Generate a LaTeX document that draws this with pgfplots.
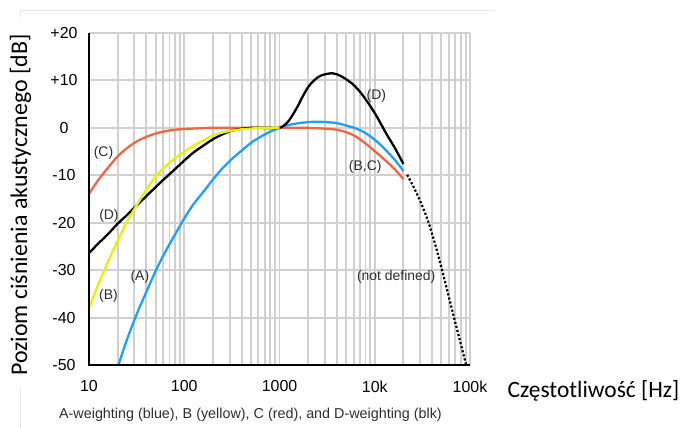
\documentclass[border=0pt]{standalone}
\usepackage{pgfplots}
\pgfplotsset{compat=1.18}
\usepackage{fontspec}
\setmainfont{Liberation Sans}
\newfontfamily\calibri{Carlito}
\definecolor{cA}{RGB}{30,160,250}
\definecolor{cB}{RGB}{228,242,10}
\definecolor{cC}{RGB}{240,100,65}
\definecolor{gridc}{RGB}{208,208,208}
\definecolor{framec}{RGB}{232,232,232}
\definecolor{labc}{RGB}{45,45,45}
\begin{document}
\begin{tikzpicture}
\path[use as bounding box] (0bp,0bp) rectangle (683bp,428bp);
\draw[framec, line width=0.8bp] (20bp,411bp) -- (20bp,418bp) -- (495bp,418bp);
\draw[framec, line width=0.8bp] (20bp,0bp) -- (20bp,40bp);
\begin{axis}[at={(89bp,63bp)}, anchor=south west, scale only axis,
  width=381bp, height=332bp,
  xmode=log, xmin=10, xmax=100000, ymin=-50, ymax=20,
  xtick={10,100,1000,10000,100000},
  xticklabels={10,100,1000,10k,100k},
  ytick={-50,-40,-30,-20,-10,0,10,20},
  yticklabels={-50,-40,-30,-20,-10,0,+10,+20},
  grid=both,
  major grid style={gridc, line width=1.9bp},
  minor grid style={gridc, line width=1.9bp},
  major tick length=0pt, minor tick length=0pt,
  axis line style={draw=none},
  tick label style={font=\fontsize{16}{18}\selectfont, text=black},
  xticklabel style={yshift=-12bp},
  yticklabel style={anchor=center, xshift=-25bp},
  clip=true,
]
% C-weighting (red)
\addplot[cC, line width=2.3bp, smooth] coordinates {
(10,-13.9)(12.5,-11.0)(16,-8.3)(20,-6.0)(25,-4.3)(31.5,-2.9)(40,-1.9)(50,-1.2)(63,-0.7)(80,-0.4)(100,-0.25)(125,-0.15)(160,-0.05)(200,0)(1000,0)(2000,0)(3150,-0.2)(4000,-0.4)(5000,-0.9)(6300,-1.8)(8000,-3.3)(10000,-4.9)(12500,-6.6)(16000,-8.6)(20000,-10.8)};
% A-weighting (blue)
\addplot[cA, line width=2.3bp, smooth] coordinates {
(20,-50.5)(25,-44.7)(31.5,-39.4)(40,-34.6)(50,-30.2)(63,-26.2)(80,-22.5)(100,-19.1)(125,-16.1)(160,-13.4)(200,-10.9)(250,-8.6)(315,-6.6)(400,-4.8)(500,-3.2)(630,-1.9)(800,-0.8)(1000,0)(1250,0.6)(1600,1.0)(2000,1.2)(2500,1.3)(3150,1.2)(4000,1.0)(5000,0.5)(6300,-0.1)(8000,-1.1)(10000,-2.5)(12500,-4.3)(16000,-6.6)(20000,-9.1)};
% D-weighting (black)
\addplot[black, line width=2.3bp, smooth] coordinates {
(10,-26.4)(12.5,-24.4)(16,-22.3)(20,-20.2)(25,-18.4)(31.5,-16.4)(40,-14.4)(50,-12.5)(63,-10.6)(80,-8.7)(100,-6.9)(125,-5.2)(160,-3.7)(200,-2.4)(250,-1.4)(315,-0.6)(400,-0.2)(500,0)(630,0)(800,0)(1000,0)(1150,0.7)(1273,1.7)(1400,3.0)(1550,4.5)(1750,6.6)(2000,8.6)(2300,10.0)(2700,11.0)(3200,11.4)(3600,11.5)(4000,11.3)(4700,10.6)(5800,9.3)(7000,7.6)(8700,5.0)(10500,2.4)(13200,-1.2)(16000,-4.0)(20000,-7.6)};
% B-weighting (yellow)
\addplot[cB, line width=2.3bp, smooth] coordinates {
(10,-38)(12.5,-33)(16,-28)(20,-23.8)(25,-19.8)(31.5,-16.4)(40,-13.0)(50,-10.3)(63,-8.2)(80,-6.4)(100,-5.0)(125,-3.8)(160,-2.6)(200,-1.6)(250,-1.0)(315,-0.6)(400,-0.3)(500,-0.15)(630,0)(1000,0)};
% not defined (dotted)
\addplot[black, line width=2.2bp, dotted, smooth] coordinates {
(21890,-9.9)(25920,-12.7)(30690,-15.9)(36340,-19.7)(43000,-24.5)(50910,-30.0)(68000,-40.0)(90800,-49.9)(93000,-51)};
\begin{scope}[font=\fontsize{14}{16}\selectfont, text=labc]
\node at (axis cs:14.2,-5.3) {(C)};
\node at (axis cs:16.2,-18.6) {(D)};
\node at (axis cs:16.0,-35.5) {(B)};
\node at (axis cs:34.2,-31.5) {(A)};
\node at (axis cs:10400,6.8) {(D)};
\node at (axis cs:7940,-8.2) {(B,C)};
\node at (axis cs:16800,-31.5) {(not defined)};
\end{scope}
\end{axis}
\draw[black, line width=2.6bp] (89bp,395bp) -- (89bp,63bp) -- (470bp,63bp);
\node[rotate=90, anchor=base, font=\calibri\fontsize{24}{26}\selectfont] at (27bp,223bp) {Poziom ciśnienia akustycznego [dB]};
\node[anchor=base, font=\calibri\fontsize{23.5}{26}\selectfont] at (593.5bp,31bp) {Częstotliwość [Hz]};
\node[anchor=base, font=\fontsize{14.4}{16}\selectfont, text=labc] at (250.5bp,10bp) {A-weighting (blue), B (yellow), C (red), and D-weighting (blk)};
\end{tikzpicture}
\end{document}
